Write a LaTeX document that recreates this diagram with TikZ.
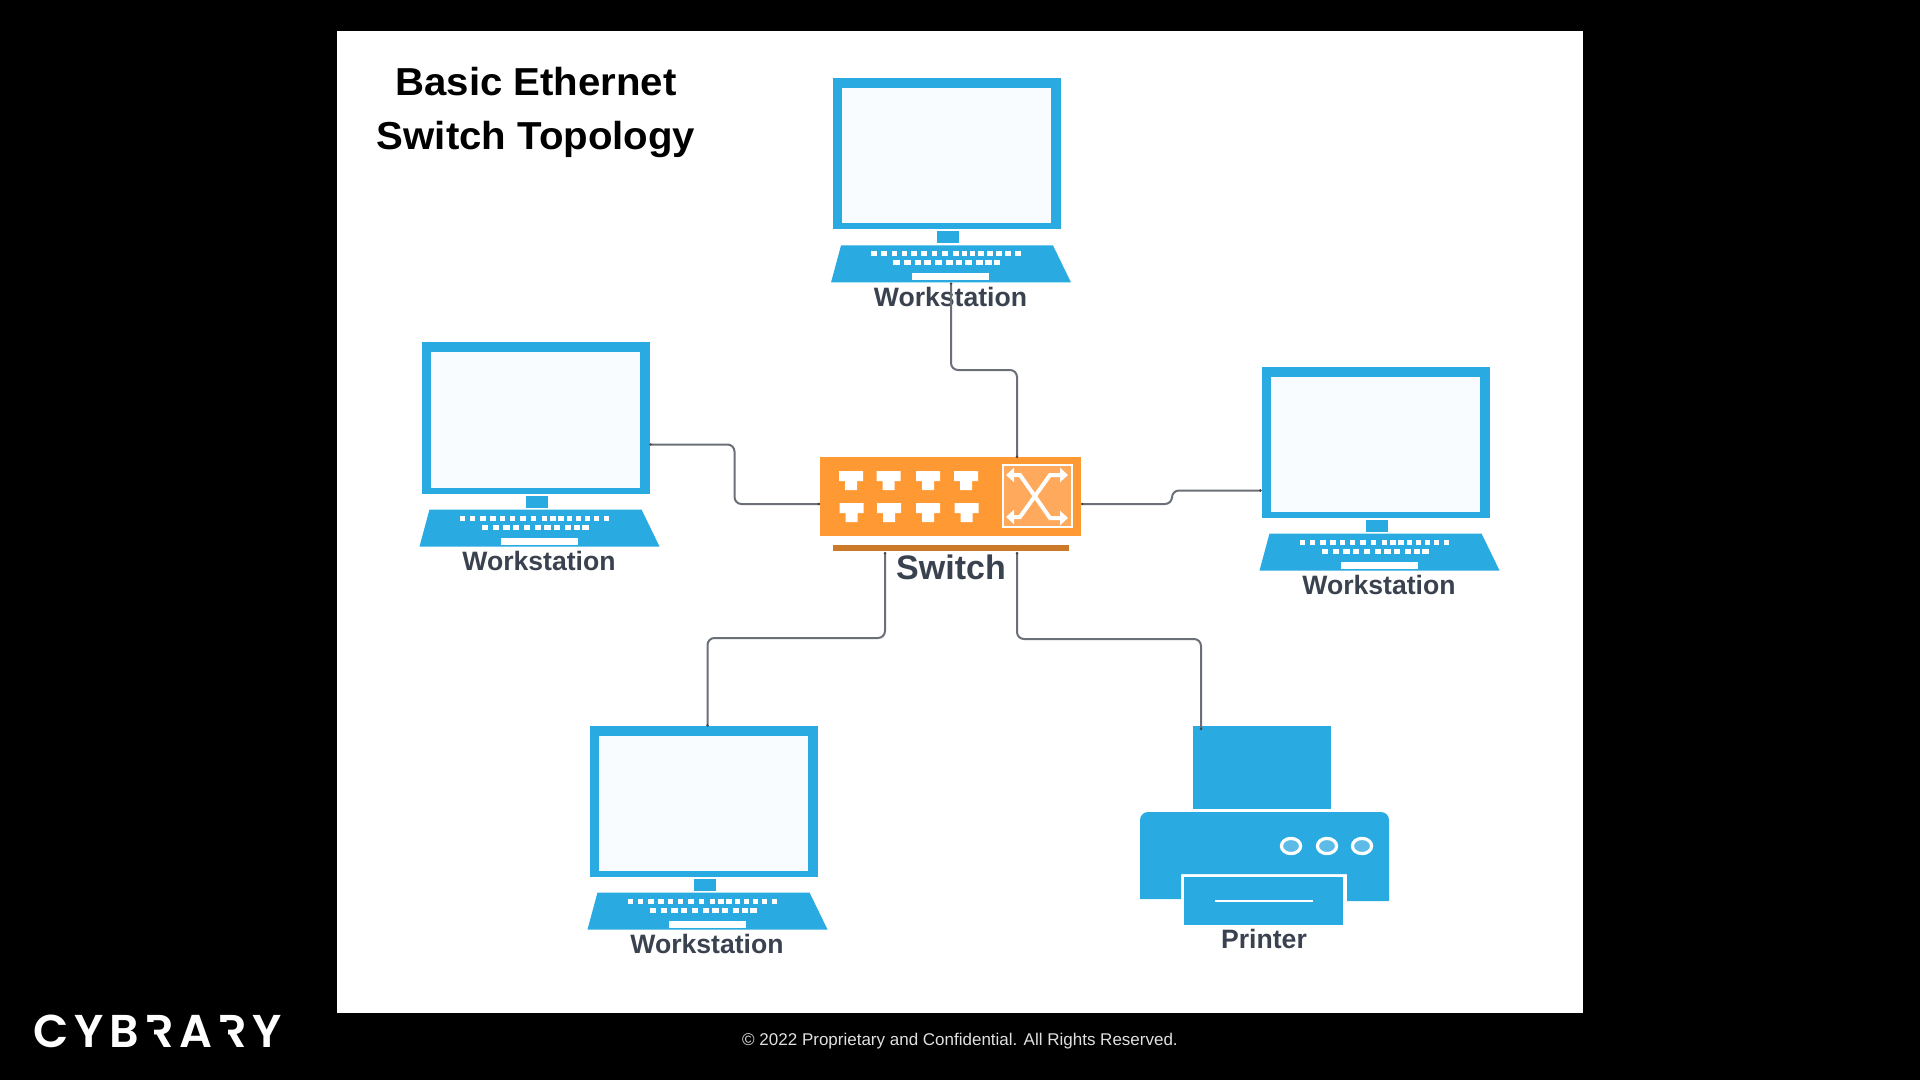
\documentclass[tikz,border=0pt]{standalone}
\usepackage{fontspec}
\setmainfont{Liberation Sans}
\newfontfamily\titlefont[FakeStretch=1.03]{Liberation Sans}
\newfontfamily\logofont[LetterSpace=12]{Poppins SemiBold}
\usetikzlibrary{arrows.meta,calc}
\definecolor{iconblue}{HTML}{29ABE2}
\definecolor{screenfill}{HTML}{F8FCFE}
\definecolor{swfill}{HTML}{FF9933}
\definecolor{swbarfill}{HTML}{CC7A29}
\definecolor{swxfill}{HTML}{FFA95C}
\definecolor{labelcol}{HTML}{3A4250}
\definecolor{wirecol}{HTML}{6B6F77}
\definecolor{ledfill}{HTML}{5DBBE8}
\newlength{\logoRa}\newlength{\logoRb}
\settowidth{\logoRa}{\logofont\fontsize{23}{26}\selectfont CYB}
\settowidth{\logoRb}{\logofont\fontsize{23}{26}\selectfont CYBRA}
\tikzset{
  x=0.5pt,y=-0.5pt,
  box/.style={rectangle,inner sep=0pt,outer sep=0pt,draw=none},
  iconlabel/.style={inner sep=0pt,outer sep=0pt,text=labelcol,font=\fontsize{13.3}{16}\selectfont\bfseries},
  wire/.style={draw=wirecol,line width=1pt,rounded corners=3.5pt,
    arrows={Circle[length=1.2pt,color=black!75]-Circle[length=1.2pt,color=black!75]}},
  xarrow/.style={draw=white,line width=2pt,
    arrows={Triangle[length=4pt,width=7pt]-Triangle[length=4pt,width=7pt]}},
  workstation/.pic={
    \node[box,fill=iconblue,minimum width=114pt,minimum height=75.5pt] (-screen) at (114,75.5) {};
    \fill[screenfill] (9,10) rectangle (218,145);
    \fill[iconblue] (104,153) rectangle (126,165);
    \fill[iconblue] (8,167) -- (220,167) -- (238,204) -- (-2,204) -- cycle;
    \foreach \k in {38.3,48.3,58.7,68.7,78.3,88,98.7,109,120,128.7,136.7,145.3,154,163.3,172.3,182.3}
      \fill[white] (\k,173) rectangle ++(5.5,5);
    \foreach \k in {60,71,81.7,91.3,102.3,113,122.7,132.3,143,152.3,160.7}
      \fill[white] (\k,182) rectangle ++(6.5,5);
    \fill[white] (79,195) rectangle (156,202);
    \node[iconlabel] (-label) at (117.5,218.5) {Workstation};
    \coordinate (-port) at (118,204);
  }
}
\begin{document}
\begin{tikzpicture}
\useasboundingbox (0,0) rectangle (1920,1080);
\fill[black] (0,0) rectangle (1920,1080);
\node[box,fill=white,minimum width=623pt,minimum height=491pt] (panel) at (960,522) {};

% title
\node[inner sep=0pt,align=center,font=\titlefont\fontsize{19.5}{27}\selectfont\bfseries,text=black] (title) at (536,113) {Basic Ethernet\\Switch Topology};

% devices
\pic (wsT) at (833,78.5) {workstation};
\pic (wsL) at (421.5,342.5) {workstation};
\pic (wsR) at (1261.5,366.5) {workstation};
\pic (wsB) at (589.5,725.5) {workstation};

% printer
\node[box,fill=iconblue,minimum width=69pt,minimum height=41.5pt] (prpaper) at (1262,767.5) {};
\fill[iconblue,rounded corners=4pt] (1140,899) -- (1140,812) -- (1389,812) -- (1389,860) [sharp corners] -- (1389,901) -- (1347,901) -- (1347,874) -- (1181,874) -- (1181,899) -- cycle;
\fill[iconblue] (1184,877) rectangle (1343,925);
\fill[white] (1215,900) rectangle (1313,902);
\foreach \cx in {1291,1327,1362}
  \draw[white,line width=1.6pt,fill=ledfill] (\cx,846) ellipse (4.8pt and 3.8pt);
\node[iconlabel] (prlabel) at (1264,939) {Printer};

% switch
\node[box,fill=swfill,minimum width=130.5pt,minimum height=39.5pt] (sw) at (950.5,496.5) {};
\node[box,fill=swbarfill,minimum width=118pt,minimum height=3pt] (swbar) at (951,548) {};
\foreach \px/\py in {839/471,876.7/471,916/471,954/471,839.7/503,877/503,916/503,954.7/503}
  \fill[white,shift={(\px,\py)}] (0,0) -- (24,0) -- (24,10) -- (18,10) -- (18,19) -- (6,19) -- (6,10) -- (0,10) -- cycle;
\draw[white,line width=1pt,fill=swxfill] (1003,465) rectangle (1072,527);
\draw[xarrow] (1006,475) -- (1020,475) -- (1050,518) -- (1068,518);
\draw[xarrow] (1006,517) -- (1020,517) -- (1050,475) -- (1068,475);
\node[inner sep=0pt,outer sep=0pt,text=labelcol,font=\fontsize{17}{20}\selectfont\bfseries] (swlabel) at (951,567) {Switch};

% connection points
\coordinate (swN) at ($(sw.north west)+(197,1)$);
\coordinate (swW) at ($(sw.north west)+(0,47)$);
\coordinate (swE) at ($(sw.north east)+(0,47)$);
\coordinate (swS1) at ($(swbar.south west)+(52,1)$);
\coordinate (swS2) at ($(swbar.south west)+(184,1)$);
\coordinate (wsLp) at ($(wsL-screen.north east)+(0,102)$);
\coordinate (wsRp) at ($(wsR-screen.north west)+(0,124)$);
\coordinate (wsBp) at ($(wsB-screen.north west)+(118,1)$);
\coordinate (prp) at ($(prpaper.north west)+(8,4)$);

% connectors
\draw[wire] (wsT-port) -- ++(0,87.5) -| (swN);
\draw[wire] (wsLp) -- ++(85,0) |- (swW);
\draw[wire] (swE) -- ++(91,0) |- (wsRp);
\draw[wire] (swS1) -- ++(0,86) -| (wsBp);
\draw[wire] (swS2) -- ++(0,87) -| (prp);

% footer
\node[inner sep=0pt,text=black!12,font=\fontsize{8.5}{10}\selectfont] (footer) at (960,1041) {© 2022 Proprietary and Confidential. All Rights Reserved.};
\node[inner sep=0pt,text=white,anchor=west,font=\logofont\fontsize{23}{26}\selectfont] (logo) at (33,1031) {CYBRARY};
\fill[black,xshift=\logoRa] (33,1022) rectangle (49,1049);
\fill[black,xshift=\logoRb] (33,1022) rectangle (49,1049);
\end{tikzpicture}
\end{document}
